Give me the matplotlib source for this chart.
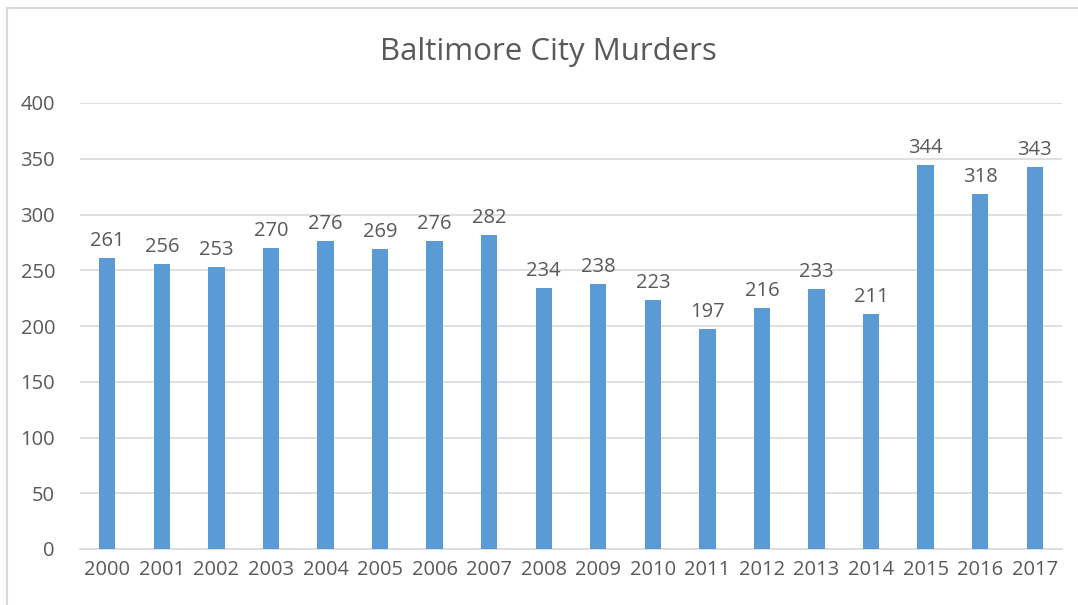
import matplotlib.pyplot as plt
from matplotlib.patches import Rectangle

years = [str(y) for y in range(2000, 2018)]
murders = [261, 256, 253, 270, 276, 269, 276, 282, 234, 238, 223, 197, 216, 233, 211, 344, 318, 343]

BAR = "#5b9bd5"
TXT = "#595959"
GRID = "#d9d9d9"

plt.rcParams['font.family'] = ['Open Sans', 'DejaVu Sans']

fig = plt.figure(figsize=(10.78, 6.05), dpi=100)
ax = fig.add_axes([80 / 1078, 56 / 605, 982 / 1078, 446 / 605])

x = range(len(years))
bars = ax.bar(x, murders, width=0.3, color=BAR, zorder=3)
for xi, v in zip(x, murders):
    ax.annotate(str(v), (xi, v), xytext=(0, 5), textcoords="offset points",
                ha="center", va="bottom", fontsize=14.5, color=TXT)

ax.set_xlim(-0.5, len(years) - 0.5)
ax.set_ylim(0, 400)
ax.set_yticks(range(0, 401, 50))
ax.set_xticks(list(x))
ax.set_xticklabels(years)
ax.tick_params(axis="both", length=0, labelsize=14.5, labelcolor=TXT)
ax.tick_params(axis="y", pad=18)
ax.tick_params(axis="x", pad=8)
ax.grid(axis="y", color=GRID, linewidth=1.2, zorder=0)
for s in ["top", "right", "left"]:
    ax.spines[s].set_visible(False)
ax.spines["bottom"].set_color(GRID)
ax.spines["bottom"].set_linewidth(1.2)

fig.text(548 / 1078, 1 - 52 / 605, "Baltimore City Murders", ha="center", va="center",
         fontsize=22.5, color=TXT)

fig.patches.append(Rectangle((7 / 1078, -0.1), 1.2, 1 - 8 / 605 + 0.1, transform=fig.transFigure,
                             fill=False, edgecolor="#d9d9d9", linewidth=1.5, clip_on=False))

fig.savefig("out.png", dpi=100)
